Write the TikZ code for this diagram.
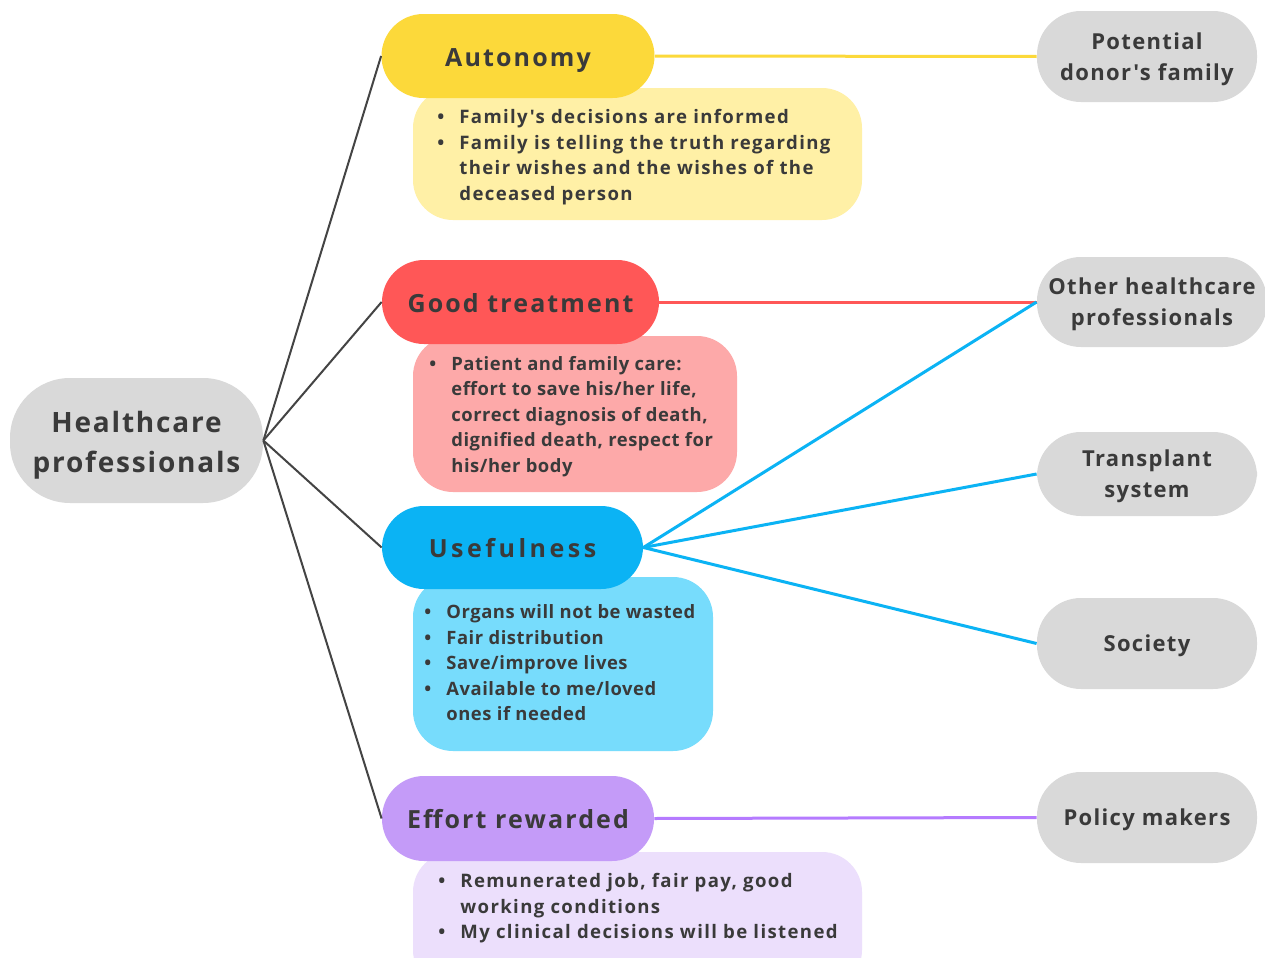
\documentclass[tikz,border=0pt]{standalone}
\usepackage{fontspec}
\setmainfont{Open Sans}
\newfontfamily\hdfont{Open Sans}[LetterSpace=8.5]
\newfontfamily\hdwfont{Open Sans}[LetterSpace=14]
\newfontfamily\gyfont{Open Sans}[LetterSpace=6]
\newfontfamily\hpfont{Open Sans}[LetterSpace=6.5]
\newfontfamily\bdfont{Open Sans}[LetterSpace=3]
\newfontfamily\bdwfont{Open Sans}[LetterSpace=7.3]
\definecolor{txt}{HTML}{3A3A3A}
\definecolor{conn}{HTML}{444444}
\definecolor{gy}{HTML}{D9D9D9}
\definecolor{yel}{HTML}{FCD93A}
\definecolor{yell}{HTML}{FFF0A6}
\definecolor{rd}{HTML}{FF5757}
\definecolor{rdl}{HTML}{FDA9A9}
\definecolor{bl}{HTML}{0BB3F4}
\definecolor{bll}{HTML}{77DCFC}
\definecolor{pu}{HTML}{C49BF8}
\definecolor{pul}{HTML}{ECDFFC}
\definecolor{pul2}{HTML}{B57BFF}
\newcommand\bu{\makebox[11pt][l]{\textbullet}}
\newcommand\ind{\hspace*{11pt}}
\begin{document}
\begin{tikzpicture}[x=0.5pt,y=-0.5pt,
  hdr/.style={rounded corners=21pt, inner sep=0pt, text=txt, text height=10pt, text depth=0pt,
    font=\hdfont\bfseries\fontsize{12.5}{15}\selectfont},
  det/.style={rounded corners=20pt, inner sep=0pt},
  dtxt/.style={anchor=west, inner sep=0pt, align=left, text=txt,
    font=\bdfont\bfseries\fontsize{9.2}{12.75}\selectfont},
  dtxtw/.style={dtxt, font=\bdwfont\bfseries\fontsize{9.3}{12.75}\selectfont},
  grey/.style={fill=gy, rounded corners=22pt, inner sep=0pt, text=txt, align=center,
    minimum width=110pt, text depth=0pt, font=\gyfont\bfseries\fontsize{11}{15.5}\selectfont},
  dk/.style={draw=conn, line width=1pt},
  cl/.style={line width=1.5pt}]
\clip (0,0) rectangle (1265,958);
\fill[white] (0,0) rectangle (1265,958);

% central node
\node[fill=gy, rounded corners=30pt, inner sep=0pt, minimum width=126.5pt, minimum height=62.5pt,
  text=txt, align=center, text depth=0pt, font=\hpfont\bfseries\fontsize{14}{20}\selectfont] (hp) at (136.5,440.5) {\raisebox{-1pt}{Healthcare}\\\raisebox{-1pt}{professionals}};

% right nodes
\node[grey, minimum height=45.5pt] (fam) at (1147,56.5) {Potential\\donor's family};
\node[grey, minimum height=45pt, minimum width=115pt] (oth) at (1152,302) {Other healthcare\\professionals};
\node[grey, minimum height=42pt] (tra) at (1147,474) {Transplant\\system};
\node[grey, minimum height=45.5pt] (soc) at (1147,643.5) {Society};
\node[grey, minimum height=45.5pt] (pol) at (1147,817.5) {Policy makers};

% detail boxes
\node[det, fill=yell, minimum width=224.5pt, minimum height=66pt] (autd) at (637.5,154) {};
\node[det, fill=rdl, minimum width=162pt, minimum height=78pt] (gtd) at (575,414) {};
\node[det, fill=bll, minimum width=150pt, minimum height=87pt] (usd) at (563,664) {};
\node[det, fill=pul, minimum width=224.5pt, minimum height=69pt] (efd) at (637.5,921) {};

% headers
\node[hdr, fill=yel, minimum width=136.5pt, minimum height=42pt] (aut) at (518,56) {Autonomy};
\node[hdr, fill=rd, minimum width=138.5pt, minimum height=42pt] (gt) at (520.5,302) {Good treatment};
\node[hdr, fill=bl, minimum width=130.5pt, minimum height=41.5pt, font=\hdwfont\bfseries\fontsize{12.5}{15}\selectfont] (use) at (512.5,547.5) {Usefulness};
\node[hdr, fill=pu, minimum width=136pt, minimum height=42.5pt] (eff) at (518,818.5) {Effort rewarded};

% detail texts
\node[dtxtw] (autt) at (437,157) {\bu Family's decisions are informed\\
\bu Family is telling the truth regarding\\
\ind their wishes and the wishes of the\\
\ind deceased person};
\node[dtxt] (gtt) at (429,416.5) {\bu Patient and family care:\\
\ind effort to save his/her life,\\
\ind correct diagnosis of death,\\
\ind dignified death, respect for\\
\ind his/her body};
\node[dtxt] (ust) at (424,663) {\bu Organs will not be wasted\\
\bu Fair distribution\\
\bu Save/improve lives\\
\bu Available to me/loved\\
\ind ones if needed};
\node[dtxtw] (eft) at (438,908.5) {\bu Remunerated job, fair pay, good\\
\ind working conditions\\
\bu My clinical decisions will be listened};

% connectors
\draw[dk] (hp.east) -- (aut.west);
\draw[dk] (hp.east) -- (gt.west);
\draw[dk] (hp.east) -- (use.west);
\draw[dk] (hp.east) -- (eff.west);
\draw[cl, draw=yel] (aut.east) -- (fam.west);
\draw[cl, draw=rd] (gt.east) -- (oth.west);
\draw[cl, draw=bl] (use.east) -- (oth.west);
\draw[cl, draw=bl] (use.east) -- (tra.west);
\draw[cl, draw=bl] (use.east) -- (soc.west);
\draw[cl, draw=pul2] (eff.east) -- (pol.west);
\end{tikzpicture}
\end{document}
